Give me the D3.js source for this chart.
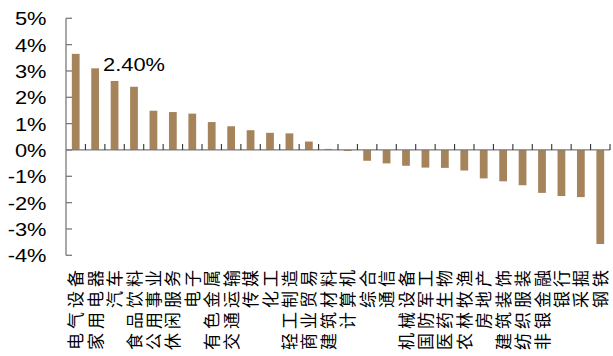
<!DOCTYPE html>
<html>
<head>
<meta charset="utf-8">
<script src="https://cdn.jsdelivr.net/npm/d3@7/dist/d3.min.js"></script>
<style>
  html, body { margin: 0; padding: 0; background: #fff; }
  svg { display: block; }
</style>
</head>
<body>
<svg id="chart" width="613" height="356"></svg>
<script>
// Industry returns (%), sorted from best to worst
const industries = ["电气设备", "家用电器", "汽车", "食品饮料", "公用事业", "休闲服务", "电子",
  "有色金属", "交通运输", "传媒", "化工", "轻工制造", "商业贸易", "建筑材料", "计算机",
  "综合", "通信", "机械设备", "国防军工", "医药生物", "农林牧渔", "房地产", "建筑装饰",
  "纺织服装", "非银金融", "银行", "采掘", "钢铁"];
const returns = [3.65, 3.10, 2.62, 2.40, 1.49, 1.44, 1.38,
  1.06, 0.90, 0.75, 0.65, 0.63, 0.32, 0.04, -0.04,
  -0.41, -0.51, -0.60, -0.67, -0.68, -0.78, -1.08, -1.19,
  -1.34, -1.63, -1.75, -1.79, -3.57];
const yTicks = [5, 4, 3, 2, 1, 0, -1, -2, -3, -4];
const labelledIndex = 3;

const svg = d3.select("#chart");
const plotLeft = 66, plotRight = 610, plotTop = 18.3, plotBottom = 255.3;

const x = d3.scaleBand().domain(industries).range([plotLeft, plotRight]).paddingInner(0).paddingOuter(0);
const y = d3.scaleLinear().domain([-4, 5]).range([plotBottom, plotTop]);

const barColor = "#A6845B";
const axisColor = "#7a7a7a";
const sx = 1.15; // horizontal stretch of the label type

// Bars
const barW = x.bandwidth() * 0.4;
svg.append("g").selectAll("rect")
  .data(returns)
  .join("rect")
  .attr("x", (d, i) => x(industries[i]) + (x.bandwidth() - barW) / 2)
  .attr("y", d => y(Math.max(0, d)))
  .attr("width", barW)
  .attr("height", d => Math.abs(y(d) - y(0)))
  .attr("fill", barColor);

// Y axis
const yAxis = svg.append("g");
yAxis.append("line")
  .attr("x1", plotLeft).attr("x2", plotLeft)
  .attr("y1", y(5)).attr("y2", y(-4))
  .attr("stroke", axisColor).attr("stroke-width", 1.3);
yAxis.selectAll("line.tick")
  .data(yTicks)
  .join("line")
  .attr("class", "tick")
  .attr("x1", plotLeft).attr("x2", plotLeft + 6)
  .attr("y1", d => y(d)).attr("y2", d => y(d))
  .attr("stroke", axisColor).attr("stroke-width", 1.3);
yAxis.selectAll("text")
  .data(yTicks)
  .join("text")
  .attr("transform", d => `translate(46.5,${y(d) + 7}) scale(${sx},1)`)
  .attr("text-anchor", "end")
  .attr("font-family", "Liberation Sans, Arial, sans-serif")
  .attr("font-size", 19)
  .attr("fill", "#000")
  .text(d => d + "%");

// X axis along the zero line with ticks at category boundaries
const xAxis = svg.append("g");
xAxis.append("line")
  .attr("x1", plotLeft).attr("x2", plotRight)
  .attr("y1", y(0)).attr("y2", y(0))
  .attr("stroke", axisColor).attr("stroke-width", 1.3);
const bounds = industries.map(d => x(d)).concat([plotRight]);
xAxis.selectAll("line.tick")
  .data(bounds.slice(1))
  .join("line")
  .attr("class", "tick")
  .attr("x1", d => d).attr("x2", d => d)
  .attr("y1", y(0) - 6).attr("y2", y(0))
  .attr("stroke", "#333").attr("stroke-width", 1.1);

// Category labels, rotated to read bottom-to-top
svg.append("g").selectAll("text")
  .data(industries)
  .join("text")
  .attr("transform", d => `translate(${x(d) + x.bandwidth() / 2 + 6.5},266) rotate(-90)`)
  .attr("text-anchor", "end")
  .attr("font-family", "Noto Sans CJK SC, sans-serif")
  .attr("font-size", 17)
  .attr("letter-spacing", 4)
  .attr("fill", "#000")
  .text(d => d);

// Value label on the highlighted bar
svg.append("text")
  .attr("transform", `translate(${x(industries[labelledIndex]) + x.bandwidth() / 2},${y(returns[labelledIndex]) - 16}) scale(${sx},1)`)
  .attr("text-anchor", "middle")
  .attr("font-family", "Liberation Sans, Arial, sans-serif")
  .attr("font-size", 19)
  .attr("fill", "#000")
  .text(returns[labelledIndex].toFixed(2) + "%");
</script>
</body>
</html>
